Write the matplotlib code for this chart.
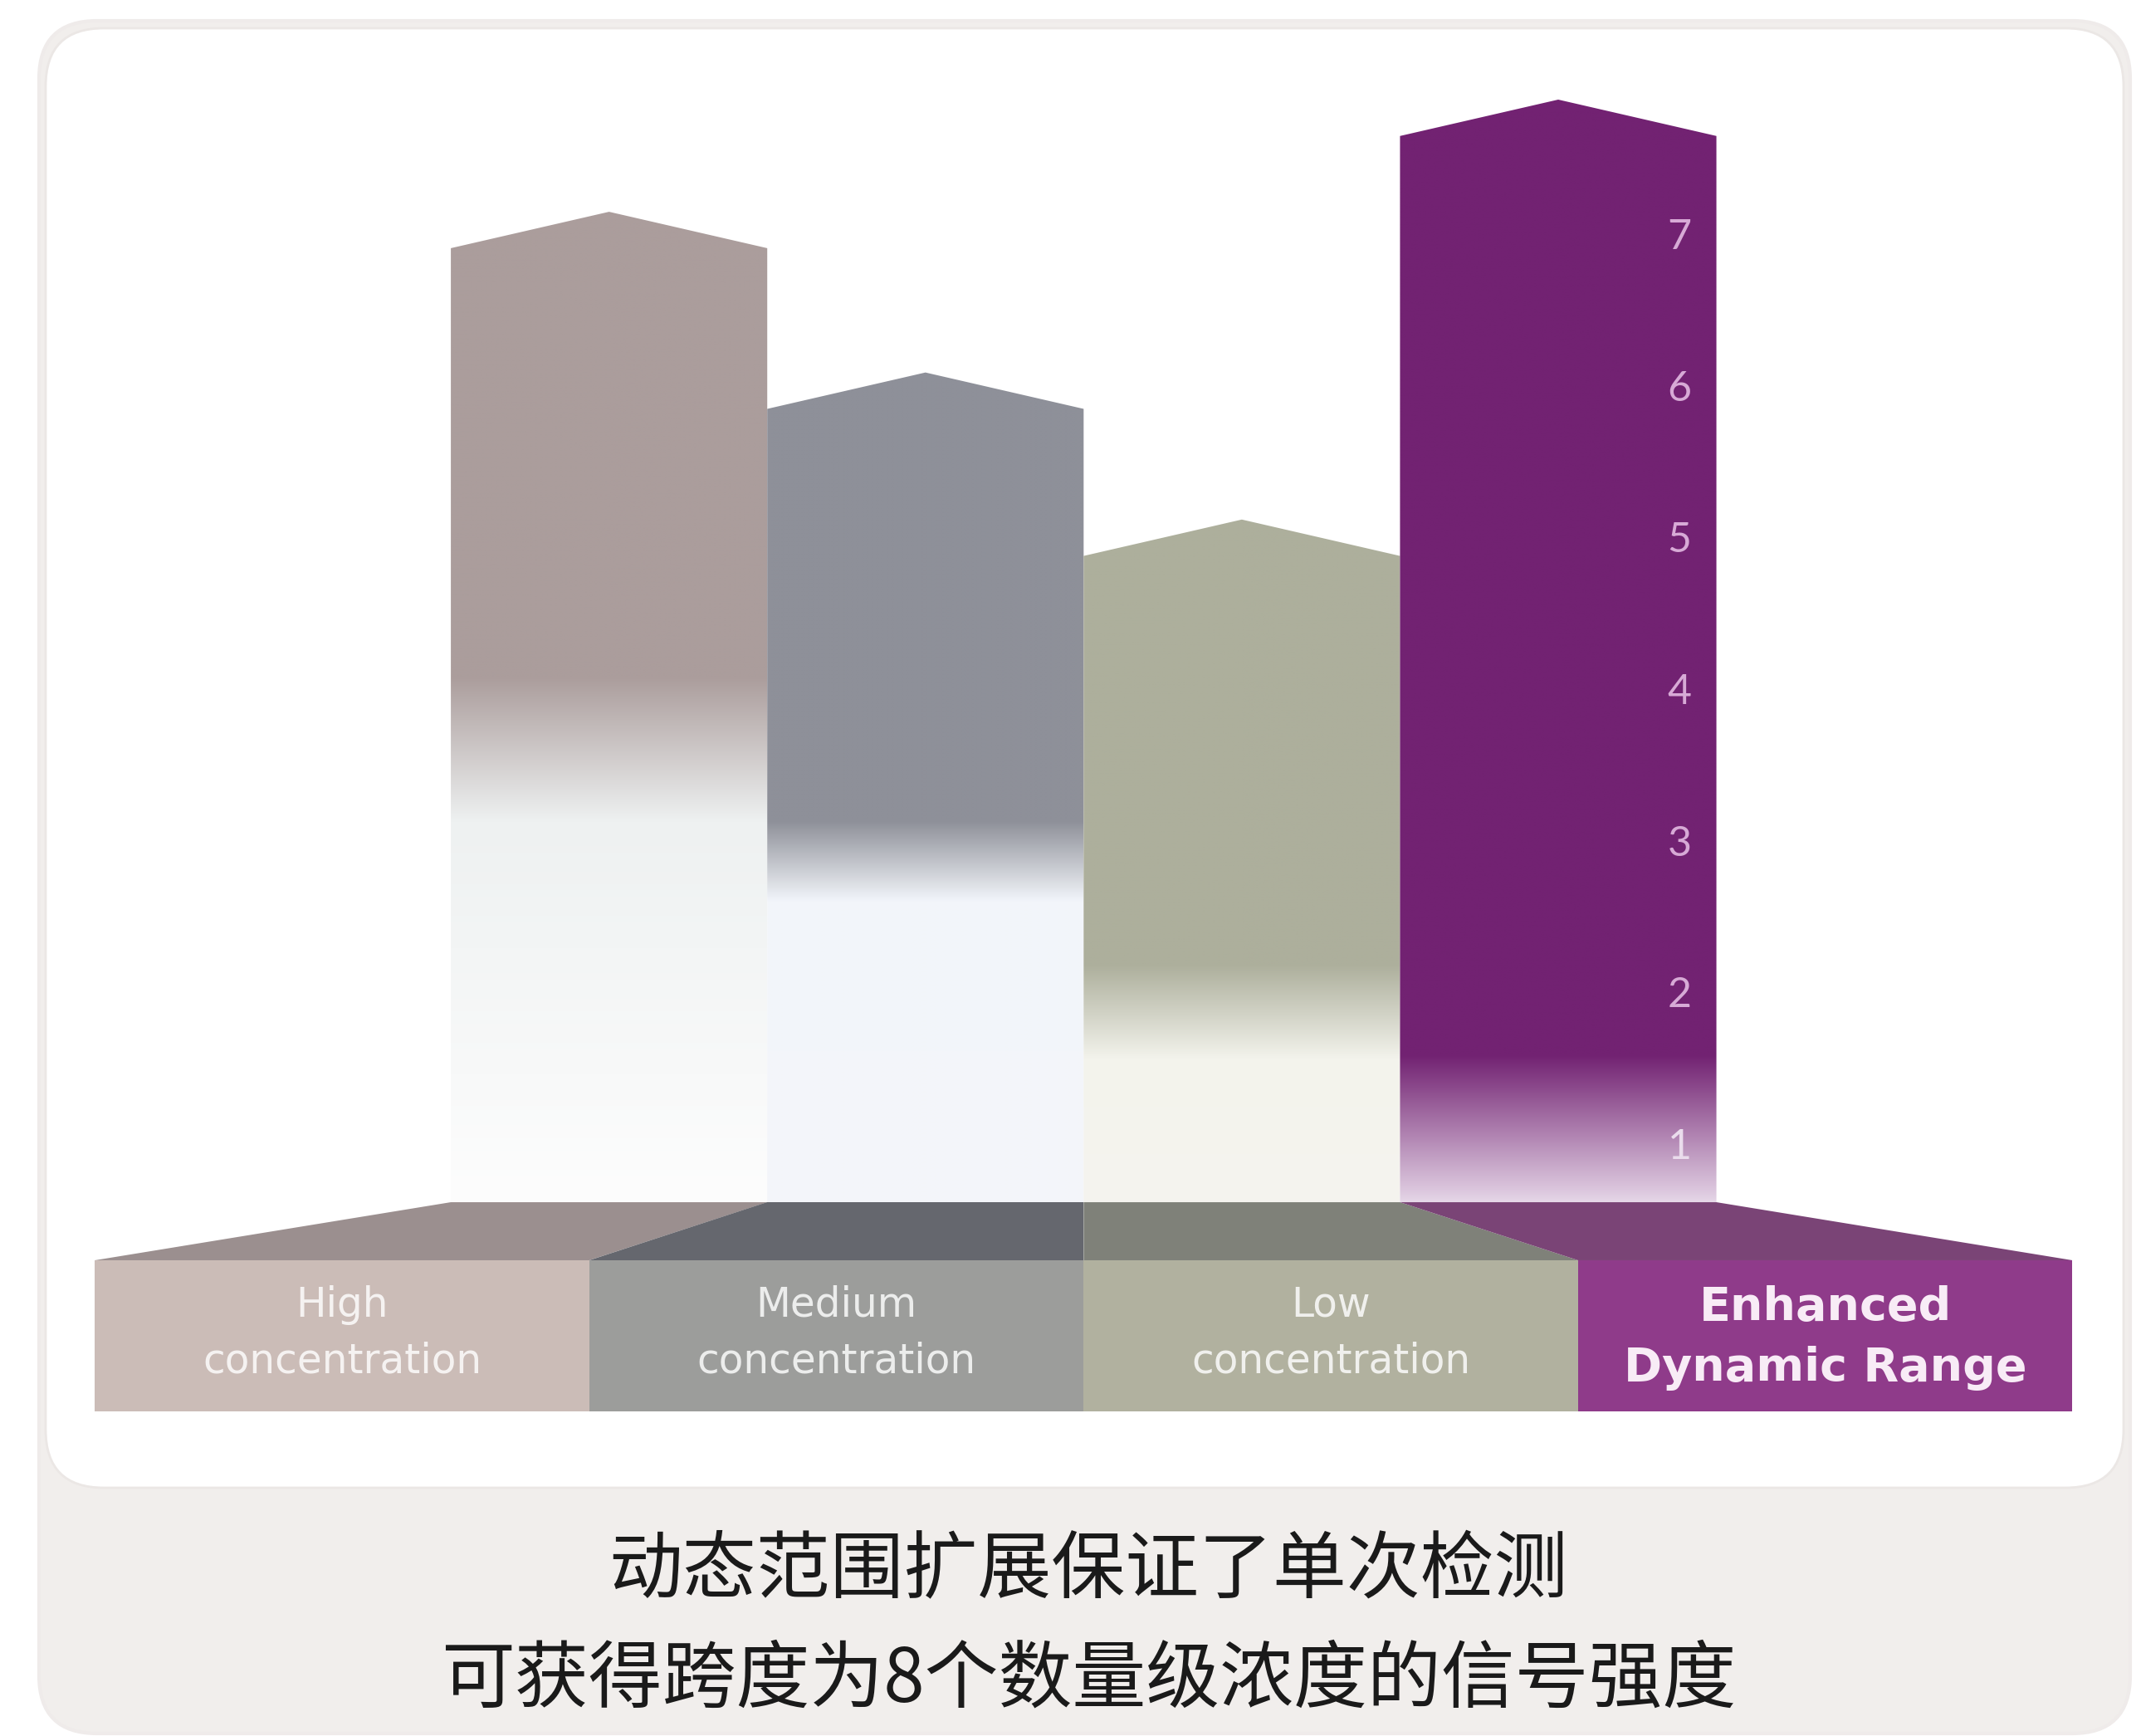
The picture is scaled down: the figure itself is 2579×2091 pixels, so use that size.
import numpy as np
import matplotlib.pyplot as plt
from matplotlib.patches import Polygon, Rectangle, FancyBboxPatch
from matplotlib.colors import to_rgb
from matplotlib.transforms import IdentityTransform

# data
categories = [("High", "concentration"), ("Medium", "concentration"),
              ("Low", "concentration"), ("Enhanced", "Dynamic Range")]
signal = [6.93, 5.87, 4.90, 7.67]        # shoulder height of each bar
fade_top = [4.10, 3.15, 2.20, 1.60]      # where the solid colour starts to wash out
fade_bottom = [3.15, 2.62, 1.58, 0.64]   # where it is fully washed out
scale_ticks = [1, 2, 3, 4, 5, 6, 7]
caption = ["动态范围扩展保证了单次检测", "可获得跨度为8个数量级浓度的信号强度"]

bar_colors = ["#ab9d9c", "#8e9099", "#adaf9c", "#722272"]
pale_colors = ["#eef1f1", "#f2f5fa", "#f3f3ec", "#e4d4e6"]
floor_colors = ["#fdfdfd", "#f4f6fa", "#f5f4ef", "#e6d8e8"]
front_colors = ["#cbbcb7", "#9c9d9b", "#b1b19f", "#8f3b8a"]
deck_colors = ["#9b8f8f", "#65676e", "#7f8179", "#7a4476"]

W, H = 2579, 2091
fig = plt.figure(figsize=(W / 100, H / 100), dpi=100)
fig.patch.set_facecolor("white")

# rounded card behind everything (pixel coords)
px = IdentityTransform()
card = FancyBboxPatch((47, 3), 2519, 2063, boxstyle="round,pad=0,rounding_size=70",
                      transform=px, facecolor="#f1eeec", edgecolor="#efebea", lw=3, zorder=0)
fig.add_artist(card)
panel = FancyBboxPatch((55, 299), 2503, 1758, boxstyle="round,pad=0,rounding_size=70",
                       transform=px, facecolor="white", edgecolor="#ebe7e5", lw=2, zorder=0)
fig.add_artist(panel)

ax = fig.add_axes([0, 0, 1, 1])
ax.set_zorder(2)
ax.patch.set_visible(False)
ax.axis("off")

deck_top = 0.637
deck_mid = 0.254
deck_bottom = -0.742
front_w = 1.5625
peak_rise = 0.24

for i in range(len(signal)):
    x0, x1 = i - 0.5, i + 0.5
    top = signal[i]
    peak = top + peak_rise
    shape = Polygon([(x0, deck_top), (x0, top), (i, peak), (x1, top), (x1, deck_top)],
                    closed=True, facecolor="none", edgecolor="none")
    ax.add_patch(shape)

    vs = np.linspace(deck_top, peak, 600)
    stops = [deck_top, fade_bottom[i], fade_top[i], peak]
    cols = [to_rgb(floor_colors[i]), to_rgb(pale_colors[i]),
            to_rgb(bar_colors[i]), to_rgb(bar_colors[i])]
    img = np.zeros((len(vs), 1, 3))
    for c in range(3):
        img[:, 0, c] = np.interp(vs, stops, [col[c] for col in cols])
    im = ax.imshow(img, extent=(x0, x1, deck_top, peak), origin="lower",
                   aspect="auto", interpolation="bilinear")
    im.set_clip_path(shape)

    # base slab: top face and front face
    b0 = 1.5 + (i - 2) * front_w
    b1 = b0 + front_w
    ax.add_patch(Polygon([(x0, deck_top), (x1, deck_top), (b1, deck_mid), (b0, deck_mid)],
                         closed=True, facecolor=deck_colors[i], edgecolor="none"))
    ax.add_patch(Rectangle((b0, deck_bottom), front_w, deck_mid - deck_bottom,
                           facecolor=front_colors[i], edgecolor="none"))

    cx = b0 + front_w / 2
    if i == 3:
        ax.text(cx, -0.06, categories[i][0], ha="center", va="center", fontsize=40,
                fontweight="bold", color="#f8ecf6")
        ax.text(cx, -0.46, categories[i][1], ha="center", va="center", fontsize=40,
                fontweight="bold", color="#f8ecf6")
    else:
        ax.text(cx, -0.04, categories[i][0], ha="center", va="center", fontsize=35,
                color="white", alpha=0.82)
        ax.text(cx, -0.41, categories[i][1], ha="center", va="center", fontsize=35,
                color="white", alpha=0.82)

for t in scale_ticks:
    ax.text(3.383, t, str(t), ha="center", va="center", fontsize=36,
            fontfamily="Lato", fontweight="normal",
            color="#eadcec" if t == 1 else "#d7aad6")

ax.set_xlim(-1.925, 4.842)
ax.set_ylim(-2.884, 8.567)

fig.text(1311 / W, 1 - 1893 / H, caption[0], ha="center", va="center", fontsize=64,
         family=["Noto Sans CJK SC", "DejaVu Sans"], color="#1a1a1a")
fig.text(1311 / W, 1 - 2024 / H, caption[1], ha="center", va="center", fontsize=64,
         family=["Noto Sans CJK SC", "DejaVu Sans"], color="#1a1a1a")

fig.savefig("out.png", dpi=100, facecolor="white")
